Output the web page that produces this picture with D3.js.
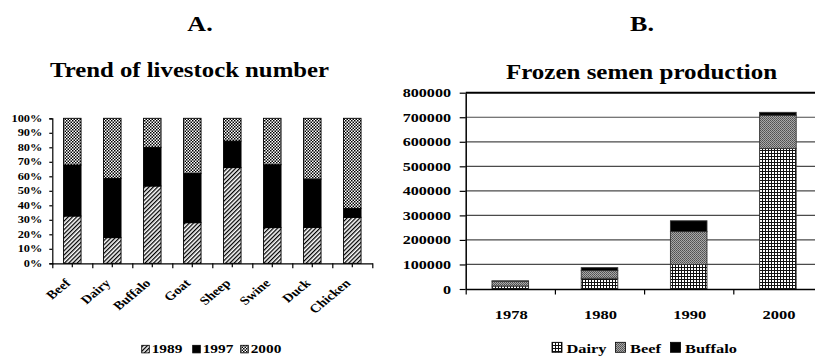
<!DOCTYPE html>
<html><head><meta charset="utf-8">
<script src="https://cdn.jsdelivr.net/npm/d3@7"></script>
<style>
html,body{margin:0;padding:0;background:#fff;}
text{font-family:"Liberation Serif","Times New Roman",serif;font-weight:bold;fill:#000;}
</style></head>
<body>
<svg id="c" width="815" height="356"></svg>
<script>
// ---- Data ----
const categoriesA = ["Beef","Dairy","Buffalo","Goat","Sheep","Swine","Duck","Chicken"];
const share1989 = [32.6, 17.7, 53.3, 28.0, 66.0, 24.6, 24.8, 31.7];
const share1997 = [35.2, 40.9, 26.7, 34.0, 18.3, 43.4, 33.3, 6.2];
const share2000 = [32.2, 41.4, 20.0, 38.0, 15.7, 32.0, 41.9, 62.1];
const seriesA = ["1989","1997","2000"];

const yearsB = ["1978","1980","1990","2000"];
const dairyB   = [12000, 44000, 100000, 573000];
const beefB    = [20000, 31000, 134000, 135000];
const buffaloB = [1000, 12000, 44000, 12000];
const seriesB = ["Dairy","Beef","Buffalo"];

const SX = 1.3; // horizontal text stretch of the original figure

const svg = d3.select("#c");
svg.append("rect").attr("width",815).attr("height",356).attr("fill","#fff");

// ---- Patterns ----
const defs = svg.append("defs");
const p1 = defs.append("pattern").attr("id","pHatch").attr("patternUnits","userSpaceOnUse")
  .attr("width",3).attr("height",3).attr("patternTransform","rotate(45)");
p1.append("rect").attr("width",3).attr("height",3).attr("fill","#fff");
p1.append("rect").attr("width",1.3).attr("height",3).attr("fill","#000");
const p2 = defs.append("pattern").attr("id","pCheck").attr("patternUnits","userSpaceOnUse")
  .attr("width",3).attr("height",3);
p2.append("rect").attr("width",3).attr("height",3).attr("fill","#fff");
p2.append("rect").attr("width",1.5).attr("height",1.5).attr("fill","#000");
p2.append("rect").attr("x",1.5).attr("y",1.5).attr("width",1.5).attr("height",1.5).attr("fill","#000");
const p3 = defs.append("pattern").attr("id","pGrid").attr("patternUnits","userSpaceOnUse")
  .attr("width",3).attr("height",3);
p3.append("rect").attr("width",3).attr("height",3).attr("fill","#fff");
p3.append("rect").attr("width",3).attr("height",1).attr("fill","#111");
p3.append("rect").attr("width",1).attr("height",3).attr("fill","#111");
const p4 = defs.append("pattern").attr("id","pGray").attr("patternUnits","userSpaceOnUse")
  .attr("width",2).attr("height",2);
p4.append("rect").attr("width",2).attr("height",2).attr("fill","#a8a8a8");
p4.append("rect").attr("width",1).attr("height",1).attr("fill","#505050");
p4.append("rect").attr("x",1).attr("y",1).attr("width",1).attr("height",1).attr("fill","#606060");

const fillA = {"1989":"url(#pHatch)","1997":"#000","2000":"url(#pCheck)"};
const fillB = {"Dairy":"url(#pGrid)","Beef":"url(#pGray)","Buffalo":"#000"};

function stretchText(sel, x, y, size, anchor, extra, sx){
  return sel.append("text")
    .attr("transform", `translate(${x},${y}) scale(${sx||SX},1)` + (extra||""))
    .attr("font-size", size).attr("text-anchor", anchor||"start");
}

// ---- Titles ----
stretchText(svg, 200, 31, 20, "middle").text("A.");
stretchText(svg, 642, 31, 20, "middle").text("B.");
stretchText(svg, 189.5, 76.5, 21, "middle", "", 1.18).text("Trend of livestock number");
stretchText(svg, 641.5, 78.5, 21, "middle", "", 1.19).text("Frozen semen production");

// ---- Chart A ----
const ax0 = 52.3, ax1 = 372.3, ayTop = 118.3, ayBot = 263.3;
const xA = d3.scaleBand().domain(categoriesA).range([ax0, ax1]).paddingInner(0.5625).paddingOuter(0.28125);
const yA = d3.scaleLinear().domain([0,100]).range([ayBot, ayTop]);
const xAlin = d3.scaleLinear().domain([0, categoriesA.length]).range([ax0, ax1]);

const rowsA = categoriesA.map((c,i)=>({cat:c, "1989":share1989[i], "1997":share1997[i], "2000":share2000[i]}));
const stackA = d3.stack().keys(seriesA)(rowsA);
const gA = svg.append("g");
stackA.forEach(layer=>{
  gA.selectAll(null).data(layer).join("rect")
    .attr("x", d=>xA(d.data.cat))
    .attr("width", xA.bandwidth())
    .attr("y", d=>yA(d[1]))
    .attr("height", d=>yA(d[0])-yA(d[1]))
    .attr("fill", fillA[layer.key])
    .attr("stroke","#000").attr("stroke-width",0.9);
});
const yAxA = svg.append("g").attr("transform",`translate(${ax0},0)`)
  .call(d3.axisLeft(yA).tickValues(d3.range(0,101,10)).tickSize(3).tickFormat(""));
yAxA.select(".domain").attr("stroke","#000").attr("stroke-width",1.2);
yAxA.selectAll(".tick line").attr("stroke","#000").attr("stroke-width",1.2);
d3.range(0,101,10).forEach(v=>{
  stretchText(svg, 42.3, yA(v)+3.2, 9.5, "end").text(d3.format(".0%")(v/100));
});
const xAxA = svg.append("g").attr("transform",`translate(0,${ayBot})`)
  .call(d3.axisBottom(xAlin).tickValues(d3.range(0,categoriesA.length+1)).tickSize(5).tickFormat("").tickSizeOuter(0));
xAxA.select(".domain").attr("stroke","#000").attr("stroke-width",1.2);
xAxA.selectAll(".tick line").attr("stroke","#000").attr("stroke-width",1.2);
const xAxA2 = svg.append("g").attr("transform",`translate(0,${ayBot})`)
  .call(d3.axisBottom(xA).tickSize(4).tickFormat("").tickSizeOuter(0));
xAxA2.select(".domain").remove();
xAxA2.selectAll(".tick line").attr("stroke","#000").attr("stroke-width",1.2);
categoriesA.forEach(c=>{
  const cx = xA(c) + xA.bandwidth()/2;
  stretchText(svg, cx-1, 284, 12, "end", " rotate(-45)", 1.2).text(c);
});
const legA = [{k:"1989",x:141.7},{k:"1997",x:192.7},{k:"2000",x:240.7}];
legA.forEach(l=>{
  svg.append("rect").attr("x",l.x).attr("y",345.3).attr("width",7.6).attr("height",7.6)
    .attr("fill",fillA[l.k]).attr("stroke","#000").attr("stroke-width",0.8);
  stretchText(svg, l.x+10, 353.2, 11.8, "start").text(l.k);
});

// ---- Chart B ----
const bx0 = 465.7, step = 89.2, byTop = 92.7, byBot = 289;
const bx1 = bx0 + step*yearsB.length;
const xB = d3.scaleBand().domain(yearsB).range([bx0, bx1]).paddingInner(0.59).paddingOuter(0.295);
const xBlin = d3.scaleLinear().domain([0, yearsB.length]).range([bx0, bx1]);
const yB = d3.scaleLinear().domain([0,800000]).range([byBot, byTop]);
const yTicksB = d3.range(0, 800001, 100000);
svg.append("g").selectAll("line").data(yTicksB.filter(v=>v>0)).join("line")
  .attr("x1", bx0).attr("x2", 815).attr("y1", d=>yB(d)).attr("y2", d=>yB(d))
  .attr("stroke", d=> d===800000 ? "#000" : "#4a4a4a")
  .attr("stroke-width", d=> d===800000 ? 2 : 1.2);

const rowsB = yearsB.map((y,i)=>({year:y, Dairy:dairyB[i], Beef:beefB[i], Buffalo:buffaloB[i]}));
const stackB = d3.stack().keys(seriesB)(rowsB);
stackB.forEach(layer=>{
  svg.append("g").selectAll("rect").data(layer).join("rect")
    .attr("x", d=>xB(d.data.year))
    .attr("width", xB.bandwidth())
    .attr("y", d=>yB(d[1]))
    .attr("height", d=>yB(d[0])-yB(d[1]))
    .attr("fill", fillB[layer.key])
    .attr("stroke","#333").attr("stroke-width",0.9);
});
const yAxB = svg.append("g").attr("transform",`translate(${bx0},0)`)
  .call(d3.axisLeft(yB).tickValues(yTicksB).tickSize(6).tickFormat("").tickSizeOuter(0));
yAxB.select(".domain").attr("stroke","#000").attr("stroke-width",1.5);
yAxB.selectAll(".tick line").attr("stroke","#000").attr("stroke-width",1.2);
yTicksB.forEach(v=>{
  stretchText(svg, 451, yB(v)+4.5, 12.4, "end").text(d3.format("d")(v));
});
const xAxB = svg.append("g").attr("transform",`translate(0,${byBot})`)
  .call(d3.axisBottom(xBlin).tickValues(d3.range(0,yearsB.length+1)).tickSize(5.5).tickFormat("").tickSizeOuter(0));
xAxB.select(".domain").attr("stroke","#000").attr("stroke-width",1.5);
xAxB.selectAll(".tick line").attr("stroke","#000").attr("stroke-width",1.2);
yearsB.forEach(y=>{
  stretchText(svg, xB(y)+xB.bandwidth()/2+1, 319, 12.7, "middle").text(y);
});
const legB = [{k:"Dairy",x:552},{k:"Beef",x:615.5},{k:"Buffalo",x:670.5}];
legB.forEach(l=>{
  svg.append("rect").attr("x",l.x).attr("y",342.3).attr("width",10).attr("height",10)
    .attr("fill",fillB[l.k]).attr("stroke","#000").attr("stroke-width",0.8);
  stretchText(svg, l.x+14.5, 352.6, 12.6, "start").text(l.k);
});
</script>
</body></html>
